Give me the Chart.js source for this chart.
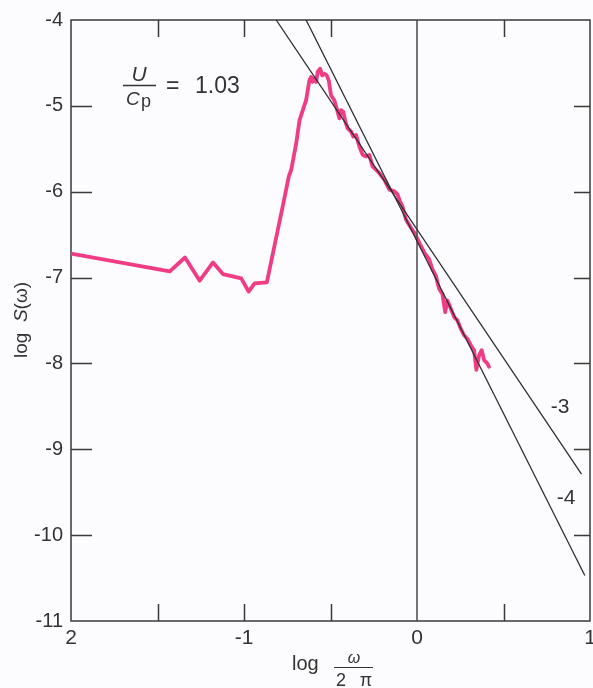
<!DOCTYPE html>
<html>
<head>
<meta charset="utf-8">
<script src="https://cdn.jsdelivr.net/npm/chart.js@4"></script>
<style>
  html, body { margin: 0; padding: 0; background: #fcfbfd; }
  canvas { display: block; }
</style>
</head>
<body>
<canvas id="spectrumChart" width="593" height="688"></canvas>
<script>
// log(omega / 2pi) and log S(omega)
const freqLog = [
  -2.0, -1.429, -1.341, -1.256, -1.179, -1.122, -1.016, -0.973, -0.939, -0.868,
  -0.772, -0.741, -0.727, -0.698, -0.679, -0.660, -0.641, -0.622, -0.612, -0.603,
  -0.593, -0.583, -0.574, -0.560, -0.548, -0.535, -0.522, -0.510, -0.497, -0.478,
  -0.464, -0.449, -0.439, -0.426, -0.414, -0.401, -0.381, -0.368, -0.352, -0.333,
  -0.314, -0.295, -0.276, -0.257, -0.218, -0.189, -0.160, -0.131, -0.112, -0.099,
  -0.084, -0.064, -0.035, -0.016, 0.013, 0.042, 0.070, 0.089, 0.109, 0.128,
  0.147, 0.163, 0.176, 0.196, 0.215, 0.234, 0.253, 0.272, 0.291, 0.311,
  0.330, 0.343, 0.359, 0.374, 0.388, 0.407, 0.416
];
const specLog = [
  -6.72, -6.928, -6.766, -7.036, -6.824, -6.959, -7.009, -7.163, -7.067, -7.056,
  -6.130, -5.821, -5.744, -5.435, -5.166, -5.050, -4.934, -4.703, -4.663, -4.721,
  -4.683, -4.721, -4.605, -4.567, -4.645, -4.625, -4.645, -4.703, -4.876, -4.934,
  -5.030, -5.146, -5.050, -5.068, -5.184, -5.262, -5.300, -5.358, -5.339, -5.473,
  -5.571, -5.589, -5.571, -5.705, -5.782, -5.860, -5.976, -5.994, -6.034, -6.110,
  -6.168, -6.323, -6.419, -6.477, -6.593, -6.708, -6.786, -6.902, -6.978, -7.133,
  -7.191, -7.403, -7.267, -7.365, -7.461, -7.499, -7.596, -7.672, -7.712, -7.788,
  -7.846, -8.074, -7.904, -7.846, -7.962, -8.001, -8.039
];

// reference slopes, end points as drawn
const slope3X = [-0.814, 0.951];
const slope3Y = [-4, -9.29];
const slope4X = [-0.641, 0.970];
const slope4Y = [-4, -10.47];
const zeroX = [0, 0];
const zeroY = [-4, -11];

const xTickLabels = { '-2': '2', '-1': '-1', '0': '0', '1': '1' };

const FONT = "'Liberation Sans', Arial, sans-serif";
const INK = '#333';

function pairs(xs, ys) {
  return xs.map((x, i) => ({ x: x, y: ys[i] }));
}

// box round the plot plus the inward tick marks
const framePlugin = {
  id: 'frame',
  beforeDatasetsDraw(chart) {
    const { ctx, chartArea: a, scales: { x, y } } = chart;
    ctx.save();
    ctx.strokeStyle = '#3a3a3a';
    ctx.lineWidth = 1.5;
    ctx.strokeRect(a.left, a.top, a.right - a.left, a.bottom - a.top);
    ctx.beginPath();
    x.ticks.forEach(t => {
      if (t.value <= -2 || t.value >= 1 || t.value === 0) return;
      const px = Math.round(x.getPixelForValue(t.value)) + 0.5;
      ctx.moveTo(px, a.top);    ctx.lineTo(px, a.top + 17);
      ctx.moveTo(px, a.bottom); ctx.lineTo(px, a.bottom - 17);
    });
    y.ticks.forEach(t => {
      if (t.value >= -4 || t.value <= -11) return;
      const py = Math.round(y.getPixelForValue(t.value)) + 0.5;
      ctx.moveTo(a.left, py);  ctx.lineTo(a.left + 21, py);
      ctx.moveTo(a.right, py); ctx.lineTo(a.right - 16, py);
    });
    ctx.stroke();
    ctx.restore();
  }
};

// axis titles and the text inside the plot
const textPlugin = {
  id: 'texts',
  afterDraw(chart) {
    const ctx = chart.ctx;
    ctx.save();
    ctx.fillStyle = INK;
    ctx.strokeStyle = INK;
    ctx.textBaseline = 'alphabetic';

    // U / Cp = 1.03
    ctx.textAlign = 'center';
    ctx.font = 'italic 21px ' + FONT;
    ctx.fillText('U', 139, 81);
    ctx.lineWidth = 1.5;
    ctx.beginPath();
    ctx.moveTo(123, 85.5); ctx.lineTo(156, 85.5);
    ctx.stroke();
    ctx.textAlign = 'left';
    ctx.font = 'italic 19px ' + FONT;
    ctx.fillText('C', 126, 105);
    ctx.font = '18px ' + FONT;
    ctx.fillText('p', 141, 107);
    ctx.font = '23px ' + FONT;
    ctx.fillText('=', 166, 93);
    ctx.fillText('1.03', 195, 93);

    // slope labels
    ctx.textAlign = 'center';
    ctx.textBaseline = 'middle';
    ctx.font = '21px ' + FONT;
    ctx.fillText('-3', 560, 407);
    ctx.fillText('-4', 566, 498);

    // x title: log (omega / 2 pi)
    ctx.textBaseline = 'alphabetic';
    ctx.textAlign = 'left';
    ctx.font = '20px ' + FONT;
    ctx.fillText('log', 292, 670);
    ctx.textAlign = 'center';
    ctx.font = 'italic 16px ' + FONT;
    ctx.fillText('ω', 354, 663);
    ctx.lineWidth = 1;
    ctx.beginPath();
    ctx.moveTo(334, 667.5); ctx.lineTo(373, 667.5);
    ctx.stroke();
    ctx.font = '18px ' + FONT;
    ctx.fillText('2', 341, 686);
    ctx.fillText('π', 366, 686);

    // y title: log S(omega)
    ctx.translate(27, 358);
    ctx.rotate(-Math.PI / 2);
    ctx.textAlign = 'left';
    ctx.font = '19px ' + FONT;
    ctx.fillText('log', 0, 0);
    let w = ctx.measureText('log  ').width;
    ctx.font = 'italic 19px ' + FONT;
    ctx.fillText('S', w, 0);
    w += ctx.measureText('S').width;
    ctx.font = '19px ' + FONT;
    ctx.fillText('(ω)', w, 0);
    ctx.restore();
  }
};

function initChart() {
  const ctx = document.getElementById('spectrumChart').getContext('2d');

  new Chart(ctx, {
    type: 'scatter',
    data: {
      datasets: [
        {
          data: pairs(slope3X, slope3Y),
          showLine: true,
          borderColor: '#2f2f2f',
          borderWidth: 1.3,
          pointRadius: 0
        },
        {
          data: pairs(slope4X, slope4Y),
          showLine: true,
          borderColor: '#2f2f2f',
          borderWidth: 1.3,
          pointRadius: 0
        },
        {
          data: pairs(zeroX, zeroY),
          showLine: true,
          borderColor: '#4a4a4a',
          borderWidth: 1.5,
          pointRadius: 0
        },
        {
          data: pairs(freqLog, specLog),
          showLine: true,
          borderColor: '#ef3c85',
          borderWidth: 3.8,
          borderJoinStyle: 'round',
          borderCapStyle: 'round',
          pointRadius: 0
        }
      ]
    },
    options: {
      responsive: false,
      animation: false,
      devicePixelRatio: 1,
      layout: { padding: { top: 16, right: 3, left: 0, bottom: 0 } },
      plugins: {
        legend: { display: false },
        tooltip: { enabled: false }
      },
      scales: {
        x: {
          type: 'linear',
          min: -2,
          max: 1,
          grid: { display: false, drawTicks: false },
          border: { display: false },
          ticks: {
            stepSize: 0.5,
            autoSkip: false,
            maxRotation: 0,
            padding: 5,
            color: INK,
            font: { family: FONT, size: 21 },
            callback: v => xTickLabels[String(Math.round(v * 2) / 2)] ?? ''
          },
          afterFit: s => { s.height = 67; s.paddingLeft = 0; s.paddingRight = 0; }
        },
        y: {
          min: -11,
          max: -4,
          grid: { display: false, drawTicks: false },
          border: { display: false },
          ticks: {
            stepSize: 1,
            padding: 8,
            color: INK,
            font: { family: FONT, size: 20 }
          },
          afterFit: s => { s.width = 71; }
        }
      }
    },
    plugins: [framePlugin, textPlugin]
  });
}

document.addEventListener('DOMContentLoaded', initChart);
</script>
</body>
</html>
